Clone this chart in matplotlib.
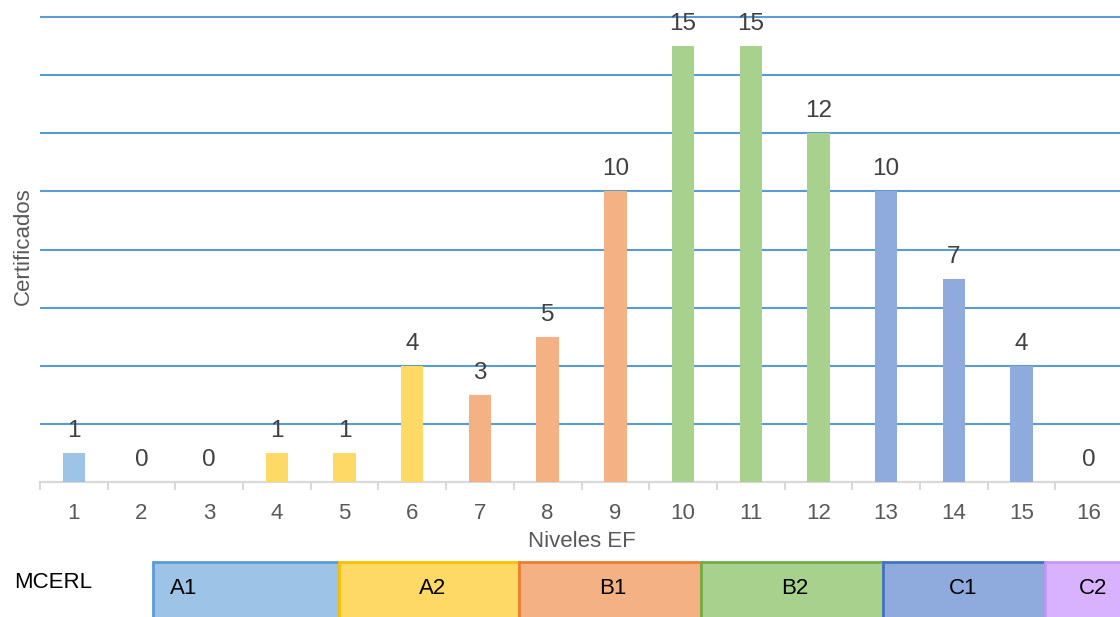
import matplotlib.pyplot as plt
from matplotlib.patches import Rectangle

# Datos
niveles = list(range(1, 17))
certificados = [1, 0, 0, 1, 1, 4, 3, 5, 10, 15, 15, 12, 10, 7, 4, 0]
banda_nivel = ['A1', 'A1', 'A1', 'A2', 'A2', 'A2', 'B1', 'B1', 'B1',
               'B2', 'B2', 'B2', 'C1', 'C1', 'C1', 'C2']

bandas = ['A1', 'A2', 'B1', 'B2', 'C1', 'C2']
relleno = {'A1': '#9DC3E6', 'A2': '#FFD966', 'B1': '#F4B183',
           'B2': '#A9D18E', 'C1': '#8FAADC', 'C2': '#D9B2FF'}
borde = {'A1': '#5B9BD5', 'A2': '#FFC000', 'B1': '#ED7D31',
         'B2': '#70AD47', 'C1': '#4472C4', 'C2': '#C399F5'}

plt.rcParams['font.family'] = ['Liberation Sans', 'DejaVu Sans']

W, H = 1120, 617
fig = plt.figure(figsize=(W / 100, H / 100), dpi=100)

# Gráfico principal (un poco de margen arriba para que la línea de 16 no se corte)
ymax = 16.2
ax = fig.add_axes([40 / W, (H - 482) / H, 1083 / W, 465 * ymax / 16 / H])
colores = [relleno[b] for b in banda_nivel]
ax.bar(niveles, certificados, width=0.33, color=colores, zorder=3)

ax.set_xlim(0.5, 16.5)
ax.set_ylim(0, ymax)
ax.set_yticks(range(2, 17, 2))
ax.set_yticklabels([])
ax.tick_params(axis='y', length=0)
ax.grid(axis='y', color='#5B9BD5', linewidth=1.5)
ax.set_axisbelow(True)

for s in ['left', 'right', 'top']:
    ax.spines[s].set_visible(False)
ax.spines['bottom'].set_color('#D9D9D9')
ax.spines['bottom'].set_linewidth(1.6)

ax.set_xticks(niveles)
ax.set_xticks([n + 0.5 for n in range(0, 17)], minor=True)
ax.tick_params(axis='x', which='major', length=0, pad=15,
               labelsize=16, labelcolor='#595959')
ax.tick_params(axis='x', which='minor', length=6, width=1.5, color='#D9D9D9')

for n, v in zip(niveles, certificados):
    ax.annotate(str(v), (n, v), xytext=(0, 11.5), textcoords='offset points',
                ha='center', va='baseline', fontsize=17.5, color='#404040',
                annotation_clip=False)

ax.set_xlabel('Niveles EF', fontsize=16, color='#595959', labelpad=5)
ax.set_ylabel('Certificados', fontsize=16, color='#595959', labelpad=1)

# Banda MCERL
bx = fig.add_axes([0, 0, 1, 1], facecolor='none')
bx.set_xlim(0, W)
bx.set_ylim(H, 0)
bx.axis('off')
limites = [153, 339, 519, 701, 883, 1045, 1125]
centros = [184, 433, 613, 795, 963, 1093]
for i, b in enumerate(bandas):
    bx.add_patch(Rectangle((limites[i], 562), limites[i + 1] - limites[i], 70,
                           facecolor=relleno[b], edgecolor=borde[b],
                           linewidth=2, clip_on=False))
    bx.text(centros[i], 588, b, ha='center', va='center', fontsize=16,
            color='black')
bx.text(53, 583, 'MCERL', ha='center', va='center', fontsize=16,
        color='black')

fig.savefig('out.png', dpi=100)
